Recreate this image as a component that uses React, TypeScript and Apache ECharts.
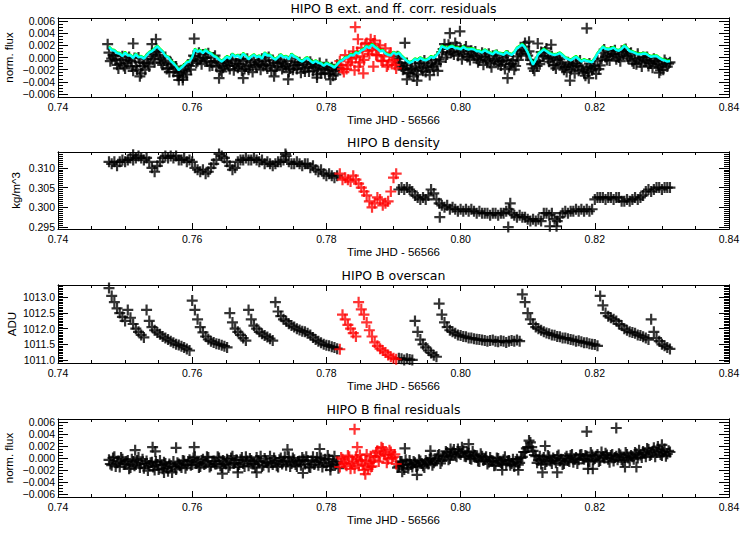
import React, { useEffect, useRef } from "react";
import * as echarts from "echarts";

// time sampling of the light curve (days, JHD - 56566)
const T0 = 0.7476;
const DT = 0.0004;
const T0_B = 0.7478; // second, interleaved set of exposures
const RED_FROM = 0.7819;
const RED_TO = 0.7905;

const X_MIN = 0.74;
const X_MAX = 0.84;
const X_STEP = 0.02;

const panelTitles = [
  "HIPO B ext. and ff. corr. residuals",
  "HIPO B density",
  "HIPO B overscan",
  "HIPO B final residuals",
];
const yTitles = ["norm. flux", "kg/m^3", "ADU", "norm. flux"];
const xTitle = "Time JHD - 56566";

// panel 1: residuals, parts per thousand (times T0 + i*DT)
const residualPpt = [
  0.8, -0.2, 0.3, -1.2, -1.0, 0.2, -1.8, -0.4, -0.6, -2.2,
  -1.4, 0.0, -2.6, -0.9, -0.3, -1.5, 0.6, -0.8, 0.9, -0.2,
  -1.2, 0.1, -1.7, -0.8, -2.4, -1.5, -3.0, -2.1, -1.8, -2.8,
  -1.4, -0.5, 0.2, -0.6, -0.3, 0.5, -0.1, 0.7, -0.8, 0.0,
  -1.5, -0.9, -2.3, -1.2, -0.9, -1.9, -0.5, -1.4, -1.7, -0.3,
  -0.6, -1.5, -2.0, -0.8, -0.4, -1.6, -1.1, -0.2, -0.6, -1.8,
  -1.3, -0.4, -2.1, -0.9, -0.7, -1.6, -1.4, -2.4, -0.2, -1.3,
  -1.9, -0.8, -1.2, -2.3, -1.6, -0.7, -2.2, -1.3, -1.5, -2.6,
  -2.0, -1.1, -2.7, -1.6, -2.2, -1.2, -0.6, -1.9, 0.4, -1.2,
  -0.8, 1.0, 0.0, -1.5, 1.6, -0.4, 2.4, 0.6, 1.2, 2.8,
  0.4, 2.0, -0.6, 1.5, -1.2, 0.8, -0.4, -1.8, -0.2, -1.5,
  -1.9, -0.9, -2.6, -1.8, -1.5, -2.8, -1.0, -2.2, -2.4, -1.3,
  -0.9, -2.0, -1.1, -0.3, 0.9, 2.2, 0.5, 1.6, 1.0, 2.4,
  0.3, 1.5, 0.6, 1.8, 0.2, 1.1, 0.4, -0.2, -0.4, 0.8,
  0.1, -0.6, -0.9, 0.3, -0.2, -1.1, -1.3, 0.0, -0.4, -1.6,
  -1.0, -2.0, 0.2, 1.0, 1.2, 2.4, 0.3, -0.4, -1.8, -0.8,
  -0.6, 0.9, 0.3, 1.5, -0.7, 0.2, -1.2, -0.4, -0.3, -1.5,
  -1.6, -0.8, -2.0, -1.1, -0.9, -2.2, -1.5, -2.5, -1.8, -1.0,
  -2.1, -1.4, -0.5, -1.3, 0.8, 0.1, 0.3, 1.0, 0.6, -0.3,
  0.0, 1.1, 0.9, 0.2, 0.3, -0.6, -0.3, 0.6, -0.8, 0.1,
  -0.5, -1.4, -1.0, -0.2, -0.6, -1.6, -1.3, -0.4, -1.5, -0.8,
];
// panel 1: residuals, interleaved exposures (times T0_B + i*DT)
const residualPptB = [
  -0.6, 0.4, -0.4, -1.8, -0.3, -1.4, -0.9, 0.1, -1.5, -0.1,
  -2.0, -0.8, -1.4, -2.0, -1.0, 0.2, -0.3, 1.0, 0.4, -0.9,
  -0.5, -1.9, -2.4, -1.1, -1.8, -3.0, -2.5, -3.3, -2.3, -1.2,
  -2.0, 0.3, -0.9, 0.8, -1.1, 0.0, -0.6, -1.4, -1.3, 0.3,
  -0.6, -2.1, -1.7, -0.7, -1.4, -0.3, -2.1, -1.0, -1.1, -2.2,
  -1.9, -0.2, -1.3, -2.4, -1.2, -0.7, -2.0, -1.4, -1.2, 0.1,
  -2.2, -0.9, -1.5, -0.3, -1.9, -1.1, -0.6, -1.8, -2.0, -0.8,
  -1.2, -2.5, -1.8, -0.8, -2.3, -1.1, -1.7, -2.8, -0.9, -1.9,
  -2.6, -1.6, -2.0, -3.0, -2.8, -1.8, -1.3, -2.4, -1.9, 0.1,
  -0.2, -2.1, 0.9, -0.8, 0.2, 2.2, 1.1, 3.0, 2.3, 0.4,
  1.4, -0.5, 0.2, -1.5, 0.4, -0.7, -1.2, 0.2, -0.9, -2.0,
  -1.3, -2.5, -1.9, -3.1, -2.1, -0.9, -1.8, -0.5, -1.6, -2.9,
  -1.5, -0.4, -2.2, -0.7, 1.4, 0.0, 2.1, 0.8, 0.5, 1.8,
  0.9, -0.3, 1.3, 0.1, -0.4, 0.7, 1.0, -0.8, 0.2, -1.2,
  -0.3, 0.6, -1.6, -0.5, 0.4, -0.7, -0.6, -1.9, 0.3, -1.1,
  -0.5, -1.4, -0.4, 0.6, 1.8, 0.7, 1.0, -1.1, -2.2, -1.4,
  -1.1, 0.2, 1.0, -0.2, -0.1, -1.3, -1.8, 0.0, -1.0, -2.0,
  -2.4, -1.2, -1.5, -2.6, -1.4, -0.5, -2.0, -3.0, -2.4, -1.5,
  -1.8, -2.7, -1.9, -0.2, 1.3, -0.4, -0.5, 0.6, 1.2, 0.2,
  -0.6, 0.5, 1.4, -0.2, 0.8, -1.0, -1.1, -0.1, -1.5, -0.4,
  0.1, -0.9, -1.7, -0.6, -1.1, -2.1, -2.0, -0.9, -1.0,
];

// panel 1: fitted correction curve (cyan), parts per thousand (times T0 + i*DT)
const fitPpt = [
  1.7, 1.2, 1.1, 0.7, 0.6, 0.2, 0.8, 0.3, 0.3, -0.1,
  0.5, 0.0, 0.1, -0.2, 0.3, 0.8, 1.0, 1.4, 1.8, 1.3,
  0.9, 0.2, 0.0, -0.6, -1.0, -1.5, -2.1, -1.7, -1.3, -0.8,
  -0.7, 0.0, 1.3, 0.9, 1.1, 0.7, 1.2, 0.8, 0.6, 0.2,
  0.0, -0.4, -0.7, -0.3, 0.1, -0.2, 0.5, 0.1, 0.3, -0.1,
  0.6, 0.2, -0.3, 0.1, 0.4, 0.0, 0.2, -0.2, 0.7, 0.3,
  0.3, -0.1, -0.4, 0.0, 0.4, 0.0, 0.1, -0.3, 0.5, 0.1,
  -0.1, -0.5, -0.7, -0.3, -0.1, -0.6, -0.9, -0.6, -0.9, -1.0,
  -1.4, -1.0, -1.2, -1.4, -1.7, -1.2, -0.7, -0.5, -0.1, 0.0,
  0.4, 0.3, 0.8, 0.6, 1.1, 1.3, 1.8, 1.5, 2.1, 1.7,
  1.4, 1.0, 1.1, 0.6, 0.4, 0.3, 0.8, 0.5, 0.7, 0.2,
  -0.2, -0.6, -0.9, -0.7, -0.3, -0.5, -0.1, -0.4, -0.5, -0.3,
  0.1, -0.1, 0.3, 0.9, 1.8, 1.6, 1.4, 1.7, 1.8, 1.5,
  1.5, 1.3, 1.7, 1.4, 1.3, 1.4, 1.3, 1.0, 1.0, 0.8,
  1.2, 0.9, 0.7, 0.5, 1.0, 0.7, 0.6, 0.4, 0.9, 0.6,
  0.4, 0.8, 1.5, 1.8, 2.1, 1.6, 0.8, -0.2, -1.2, -0.4,
  0.6, 0.9, 1.3, 1.0, 0.7, 0.5, 0.4, 0.5, 0.7, 0.3,
  -0.1, -0.3, -0.5, -0.2, 0.1, -0.3, -0.7, -0.4, -0.6, -0.7,
  -0.8, -0.2, 0.6, 1.1, 1.7, 1.4, 1.3, 1.4, 1.6, 1.2,
  1.1, 1.4, 1.9, 1.5, 1.0, 0.9, 0.7, 0.5, 0.5, 0.6,
  0.6, 0.3, 0.1, 0.2, 0.2, -0.1, -0.4, -0.5, -0.7, -0.6,
];

// panel 2: density, kg/m^3
const densityKgM3 = [
  0.3115, 0.3110, 0.3115, 0.3105,
  0.3115, 0.3120, 0.3115, 0.3120, 0.3125, 0.3120,
  0.3125, 0.3130, 0.3125, 0.3120, 0.3125, 0.3115,
  0.3100, 0.3090, 0.3105, 0.3115,
  0.3125, 0.3130, 0.3125, 0.3130, 0.3125, 0.3130, 0.3120,
  0.3120, 0.3125, 0.3115, 0.3120, 0.3115,
  0.3100, 0.3095, 0.3090, 0.3095, 0.3085, 0.3090,
  0.3100, 0.3110, 0.3120,
  0.3135, 0.3130, 0.3125,
  0.3115, 0.3105, 0.3095, 0.3100,
  0.3115, 0.3120, 0.3120, 0.3125, 0.3120, 0.3120, 0.3125, 0.3120, 0.3115, 0.3120,
  0.3110, 0.3115, 0.3110, 0.3105, 0.3110, 0.3115,
  0.3115, 0.3120, 0.3130, 0.3115, 0.3110,
  0.3110, 0.3115, 0.3110, 0.3105, 0.3110, 0.3110,
  0.3100, 0.3105, 0.3095, 0.3090, 0.3095,
  0.3085, 0.3080, 0.3085, 0.3080, 0.3075, 0.3080,
  0.3085, 0.3070, 0.3075, 0.3070, 0.3065, 0.3080, 0.3070, 0.3060, 0.3050, 0.3040,
  0.3030, 0.3015, 0.3000, 0.3010, 0.3025, 0.3020, 0.3005, 0.3010, 0.3015, 0.3040,
  0.3075, 0.3085,
  0.3045, 0.3050, 0.3045, 0.3050, 0.3045, 0.3040, 0.3030, 0.3025, 0.3020, 0.3025,
  0.3020, 0.3030, 0.3045, 0.3035, 0.3020, 0.3010, 0.3005, 0.3000, 0.3005, 0.2995,
  0.3000, 0.2995, 0.2990, 0.2995, 0.2990, 0.2995, 0.2990, 0.2995, 0.2990, 0.2985,
  0.2990, 0.2985, 0.2985, 0.2985, 0.2980, 0.2985, 0.2985, 0.2980, 0.2985, 0.2985,
  0.2990, 0.2995, 0.2985, 0.2980, 0.2975, 0.2980, 0.2975, 0.2975, 0.2970, 0.2965,
  0.2970, 0.2965, 0.2970, 0.2965, 0.2985, 0.2985, 0.2980, 0.2985, 0.2970, 0.2965,
  0.2975, 0.2985, 0.2990, 0.2985, 0.2990, 0.2990, 0.2995, 0.2990, 0.2995, 0.2990,
  0.2995, 0.2990, 0.2995, 0.3020, 0.3025, 0.3025, 0.3025, 0.3020, 0.3025, 0.3025,
  0.3020, 0.3025, 0.3025, 0.3015, 0.3015, 0.3020, 0.3015, 0.3020, 0.3025, 0.3020,
  0.3025, 0.3030, 0.3040, 0.3045, 0.3040, 0.3045, 0.3050, 0.3050, 0.3045, 0.3050,
  0.3050, 0.3050,
];

// panel 3: overscan level, ADU
const overscanAdu = [
  1013.30, 1013.05, 1012.85, 1012.65, 1012.50, 1012.38, 1012.25,
  1012.60, 1012.35, 1012.15, 1012.00, 1011.90, 1011.80, 1011.72,
  1012.60, 1012.25, 1012.05, 1011.95, 1011.88, 1011.82, 1011.75, 1011.70, 1011.65,
  1011.60, 1011.55, 1011.50, 1011.48, 1011.44, 1011.40, 1011.35, 1011.30,
  1012.90, 1012.60, 1012.30, 1012.05, 1011.88, 1011.75, 1011.66, 1011.60, 1011.56,
  1011.52, 1011.50, 1011.47, 1011.44, 1011.40,
  1012.50, 1012.20, 1012.00, 1011.90, 1011.80, 1011.70, 1011.62,
  1012.60, 1012.30, 1012.10, 1012.00, 1011.90, 1011.84, 1011.78, 1011.73, 1011.68, 1011.62,
  1012.85, 1012.55, 1012.40, 1012.30, 1012.24, 1012.16, 1012.10, 1012.05, 1012.00, 1011.96,
  1011.92, 1011.90, 1011.85, 1011.80, 1011.72, 1011.65, 1011.60, 1011.55, 1011.50, 1011.47,
  1011.45, 1011.42, 1011.40, 1011.36,
  1011.34, 1012.45, 1012.30, 1012.12, 1012.00, 1011.86, 1011.75,
  1012.85, 1012.62, 1012.45, 1012.20, 1011.95, 1011.75, 1011.56, 1011.45, 1011.36, 1011.30,
  1011.24, 1011.16, 1011.10, 1011.05, 1011.02,
  1011.05, 1011.04, 1011.00, 1011.04, 1011.01, 1011.00,
  1012.25, 1011.90, 1011.65, 1011.50, 1011.40, 1011.30, 1011.22, 1011.15, 1011.10,
  1012.80, 1012.45, 1012.20, 1012.05, 1011.95, 1011.90, 1011.85, 1011.80, 1011.78, 1011.75,
  1011.74, 1011.70, 1011.70, 1011.68, 1011.66, 1011.65, 1011.64, 1011.62, 1011.60, 1011.62,
  1011.64, 1011.60, 1011.58, 1011.61, 1011.60, 1011.56, 1011.60, 1011.62, 1011.60, 1011.64,
  1011.60,
  1013.10, 1012.85, 1012.50, 1012.30, 1012.15, 1012.05, 1012.00, 1011.95, 1011.90, 1011.86,
  1011.84, 1011.80, 1011.79, 1011.75, 1011.74, 1011.70, 1011.70, 1011.68, 1011.65, 1011.64,
  1011.60, 1011.61, 1011.58, 1011.55, 1011.55, 1011.52, 1011.50, 1011.49, 1011.45,
  1013.05, 1012.75, 1012.50, 1012.40, 1012.35, 1012.30, 1012.25, 1012.15, 1012.10, 1012.00,
  1011.95, 1011.90, 1011.88, 1011.85, 1011.80, 1011.78, 1011.74, 1011.70, 1011.65,
  1012.30, 1011.90, 1011.70, 1011.60, 1011.50, 1011.45, 1011.40, 1011.35,
];

// panel 4: final residuals, parts per thousand (times T0 + i*DT)
const finalPpt = [
  -0.3, -1.2, 0.2, -0.8, -1.5, -0.2, -1.0, -0.4, -1.6, -0.6,
  -1.1, 0.1, -0.9, -1.7, -0.5, -1.3, -0.7, -2.0, -1.1, -0.4,
  -1.8, -0.9, -2.2, -1.3, -0.6, -1.9, -1.0, -1.6, -0.5, -1.2,
  -0.3, -1.1, 0.2, -0.7, -1.4, -0.2, -0.9, 0.1, -1.3, -0.5,
  -1.0, 0.0, -1.6, -0.6, -0.2, -1.2, 0.3, -0.8, -1.5, -0.3,
  -0.9, 0.2, -1.3, -0.4, -1.0, 0.1, -0.7, -1.4, -0.1, -0.8,
  0.3, -1.1, -0.5, -1.5, 0.0, -0.6, -1.2, 0.2, -0.9, -0.3,
  -1.4, -0.5, 0.1, -1.0, -0.4, -1.6, 0.2, -0.7, -1.2, 0.0,
  -0.8, -1.3, -0.2, -1.1, 0.3, -0.6,
  -1.5, -0.2, -1.0, 0.4, -1.8, -0.6, 0.2, -1.3, -0.4, -2.0,
  0.6, -0.8, -1.4, 0.1, 1.2, 0.3, 1.6, 0.5, -0.2, 1.0,
  0.2, -1.0,
  -1.4, -0.6, -1.9, -1.0, -0.4, -1.5, -0.8, -1.2, -0.5, -1.3,
  -0.4, -1.0, 0.0, -0.8, -0.2, 0.6, -0.5, 0.3, 0.9, -0.1,
  1.0, 0.4, 1.5, 0.6, 1.2, 0.2, 0.8, -0.2, 0.5, 0.1,
  -0.6, 0.3, -0.2, -1.0, 0.1, -0.5, -1.2, -0.1, -0.8, -0.3,
  -1.1, -0.4, -0.9, -1.4, -0.2, -0.8, 0.2, 1.0, 1.8, 2.6,
  1.2, 0.3, -0.4, -1.0, 0.1, -0.6, 0.2, -0.9, -0.3, 0.3,
  -0.5, -1.1, 0.0, -0.4, 0.4, -0.7, 0.1, -0.3, 0.6, -0.2,
  0.3, -0.6, 0.5, -0.1, 0.6, -0.4, 0.2, 0.8, -0.2, 0.4,
  -0.5, 0.3, 0.7, -0.3, 0.1, 0.6, -0.4, 0.2, 0.9, 0.0,
  0.5, 1.1, 0.2, 1.4, 0.6, 1.7, 0.9, 1.3, 0.4, 1.5, 0.7, 1.0,
];
// panel 4: final residuals, interleaved exposures (times T0_B + i*DT)
const finalPptB = [
  -1.0, 0.0, -1.4, -0.5, 0.1, -1.1, -0.6, -1.8, -0.2, -1.3,
  -0.4, -1.6, -0.2, -1.0, -2.1, -0.8, -1.5, -0.6, -1.9, -1.2,
  -0.7, -1.6, -1.0, -2.4, -1.5, -0.8, -1.3, -0.4, -1.7, -0.6,
  -1.2, 0.0, -0.9, -1.6, -0.4, -1.1, 0.2, -1.5, -0.6, -1.0,
  0.2, -1.3, -0.4, -1.0, -1.6, 0.0, -0.9, -0.3, -1.1, 0.1,
  -1.4, -0.5, -0.1, -1.0, -1.6, -0.5, 0.3, -1.2, -0.6, -1.5,
  -0.8, 0.0, -1.3, -0.3, -1.0, 0.2, -0.6, -1.4, 0.0, -1.1,
  -0.6, -1.2, -0.3, 0.2, -1.5, -0.5, -1.1, 0.1, -0.3, -1.5,
  -0.2, 0.4, -1.4, -0.6, -1.0, -1.7, 0.1, -0.8, -1.3, 0.2,
  -0.9, -1.7, -0.2, 0.5, -1.1, -0.5, -1.8, 0.3, -0.4, 0.9,
  -0.6, 1.8, 0.7, -0.8, 1.3, 0.0, 0.6, -1.6, -0.6, -1.2,
  -0.3, -1.7, -1.1, -0.6, -1.4, -0.3, -0.9, -1.6, -0.7, -0.2,
  -1.2, -0.5, 0.4, -0.9, 0.2, 1.1, -0.3, 0.6, 1.4, 0.2,
  0.8, 1.8, 0.3, 1.0, -0.1, 1.1, 0.4, -0.5, 0.7, -0.4,
  0.2, -0.7, -0.4, -1.3, 0.0, -0.6, -1.0, 0.2, -0.5, -1.2,
  -0.2, -0.6, -1.1, 0.0, 1.0, 1.6, 2.9, 1.8, 0.5, -0.8,
  0.3, -0.2, -1.1, 0.4, -0.5, 0.0, -0.8, 0.5, -0.2, -0.9,
  0.3, -0.6, 0.6, -0.2, -0.9, 0.5, -0.1, 0.4, -0.5, 0.9,
  -0.3, 0.3, -0.6, 1.0, 0.0, 0.5, -0.7, 0.6, 0.1, -0.3,
  0.5, -0.6, 0.9, 0.0, 0.4, -0.2, 0.7, 1.3, 0.1, 0.8,
  1.6, 0.4, 1.1, 0.2, 1.9, 0.6, 1.0, 0.3, 1.2,
];

// isolated points [time, value]
const residualOutliers = [
  [0.7474, 2.2], [0.7512, 2.3], [0.754, 2.2], [0.7546, 3.0], [0.7522, -3.1],
  [0.758, -3.7], [0.7586, -3.7], [0.7603, 3.1], [0.764, -3.4], [0.7676, -3.4],
  [0.7722, -3.1], [0.7743, -3.6], [0.7786, -3.3], [0.7806, -3.6], [0.7843, 5.0],
  [0.7847, 3.0], [0.7855, -2.6], [0.787, -1.5], [0.7917, 2.4], [0.792, -3.6],
  [0.7935, -3.8], [0.7984, 4.0], [0.7999, 4.3], [0.807, -3.4], [0.8102, 2.6],
  [0.8115, 2.3], [0.8135, 2.1], [0.8163, -3.8], [0.8188, 4.8], [0.8191, -3.4],
  [0.8296, -2.5],
];
const densityOutliers = [
  [0.7512, 0.3133], [0.7739, 0.3135], [0.7969, 0.2975], [0.8071, 0.295],
  [0.8074, 0.301], [0.8133, 0.2952], [0.8143, 0.2952],
];
const finalOutliers = [
  [0.7515, 1.3], [0.7541, 1.8], [0.7545, 1.1], [0.7576, 1.7], [0.7603, 1.8],
  [0.7558, -2.4], [0.7645, -2.6], [0.7668, -2.4], [0.7696, -2.4], [0.7742, 1.4],
  [0.7765, -2.5], [0.779, 1.5], [0.7806, -2.0], [0.7842, 4.8], [0.7846, 1.8],
  [0.7858, -2.7], [0.7866, -1.5], [0.7917, 1.6], [0.7913, -2.3], [0.7935, -2.8],
  [0.7955, 1.2], [0.7985, 1.5], [0.8012, 2.3], [0.8062, -2.0], [0.8086, -2.0],
  [0.8122, -2.4], [0.8126, 2.0], [0.8144, -2.4], [0.8188, 4.4], [0.819, -1.8],
  [0.8197, -1.8], [0.8232, 5.0], [0.8245, -1.5], [0.8262, -1.5], [0.83, 2.2],
];

const PLUS = "path://M4,0h2v4h4v2h-4v4h-2v-4h-4v-2h4z";
const FONT = "Liberation Sans";

const isRed = (t: number) => t >= RED_FROM && t <= RED_TO;
const toPairs = (vals: number[], t0: number) =>
  vals.map((v, i) => [+(t0 + i * DT).toFixed(5), v]);

function splitPairs(pairs: number[][]) {
  return {
    black: pairs.filter((p) => !isRed(p[0])),
    red: pairs.filter((p) => isRed(p[0])),
  };
}

const minusFix = (s: string) => s.replace("-", "\u2212");
const isMultiple = (v: number, m: number) => Math.abs(v / m - Math.round(v / m)) < 1e-6;

const panels = [
  { top: 18, height: 79, min: -6.5, max: 6.5, split: 6, major: 2, minor: 0.5, nameX: 8.5,
    fmt: (v: number) => minusFix((v / 1000).toFixed(3)) },
  { top: 152, height: 77, min: 0.2945, max: 0.314, split: 4, major: 0.005, minor: 0.0005, nameX: 16,
    fmt: (v: number) => v.toFixed(3) },
  { top: 285, height: 78, min: 1010.9, max: 1013.4, split: 5, major: 0.5, minor: 0.05, nameX: 11.5,
    fmt: (v: number) => v.toFixed(1) },
  { top: 419, height: 78, min: -6.5, max: 6.5, split: 6, major: 2, minor: 0.5, nameX: 8.5,
    fmt: (v: number) => minusFix((v / 1000).toFixed(3)) },
];

function buildOption() {
  const grids: any[] = [];
  const xAxes: any[] = [];
  const yAxes: any[] = [];
  const graphic: any[] = [];
  const black = { color: "#000" };

  panels.forEach((p, g) => {
    grids.push({ left: 58, width: 671, top: p.top, height: p.height });
    const xc = {
      type: "value", gridIndex: g, min: X_MIN, max: X_MAX, interval: X_STEP,
      splitLine: { show: false },
      axisLine: { show: true, onZero: false, lineStyle: { color: "#000", width: 1 } },
      axisTick: { show: true, inside: true, length: 6, lineStyle: black },
      minorTick: { show: true, splitNumber: 4, length: 3, lineStyle: black },
    };
    xAxes.push({
      ...xc, position: "bottom",
      axisLabel: { show: true, margin: 4, color: "#000", fontSize: 10.5, fontFamily: FONT,
        formatter: (v: number) => v.toFixed(2) },
    });
    xAxes.push({ ...xc, position: "top", axisLabel: { show: false } });

    const yc = {
      type: "value", gridIndex: g, min: p.min, max: p.max,
      splitLine: { show: false },
      axisLine: { show: true, onZero: false, lineStyle: { color: "#000", width: 1 } },
    };
    const majorTick = { show: true, inside: true, length: 10, lineStyle: black };
    const minorTickY = { show: true, inside: true, length: 5, lineStyle: black };
    yAxes.push({
      ...yc, position: "left", splitNumber: p.split, axisTick: majorTick,
      axisLabel: { show: true, margin: 3, color: "#000", fontSize: 10.5, fontFamily: FONT,
        formatter: (v: number) => (isMultiple(v, p.major) ? p.fmt(v) : "") },
    });
    yAxes.push({ ...yc, position: "left", interval: p.minor, axisTick: minorTickY, axisLabel: { show: false } });
    yAxes.push({ ...yc, position: "right", splitNumber: p.split, axisTick: majorTick, axisLabel: { show: false } });
    yAxes.push({ ...yc, position: "right", interval: p.minor, axisTick: minorTickY, axisLabel: { show: false } });

    graphic.push({
      type: "text", x: 393.5, y: p.top - 9.5, silent: true,
      style: { text: panelTitles[g], font: '12.5px "DejaVu Sans"', fill: "#000", align: "center", verticalAlign: "middle" },
    });
    graphic.push({
      type: "text", x: 393.5, y: p.top + p.height + 22.5, silent: true,
      style: { text: xTitle, font: `11.5px "${FONT}"`, fill: "#000", align: "center", verticalAlign: "middle" },
    });
    graphic.push({
      type: "text", x: p.nameX, y: p.top + p.height / 2, rotation: Math.PI / 2, silent: true,
      style: { text: yTitles[g], font: `11.5px "${FONT}"`, fill: "#000", align: "center", verticalAlign: "middle" },
    });
  });

  const scatter = (g: number, data: number[][], color: string, z: number) => ({
    type: "scatter", xAxisIndex: 2 * g, yAxisIndex: 4 * g, data,
    symbol: PLUS, symbolSize: 11, itemStyle: { color }, z, silent: true,
  });

  const sets = [
    splitPairs([...toPairs(residualPpt, T0), ...toPairs(residualPptB, T0_B), ...residualOutliers]),
    splitPairs([...toPairs(densityKgM3, T0), ...densityOutliers]),
    splitPairs(toPairs(overscanAdu, T0)),
    splitPairs([...toPairs(finalPpt, T0), ...toPairs(finalPptB, T0_B), ...finalOutliers]),
  ];
  const series: any[] = [];
  sets.forEach((s, g) => {
    series.push(scatter(g, s.black, "#000000", 2));
    series.push(scatter(g, s.red, "#ff0000", 3));
  });
  series.push({
    type: "line", xAxisIndex: 0, yAxisIndex: 0, data: toPairs(fitPpt, T0), symbol: "none", silent: true, z: 5,
    lineStyle: { color: "#00ffff", width: 2.2, shadowColor: "#00ff00", shadowOffsetY: -1, shadowBlur: 0 },
  });

  return {
    animation: false,
    backgroundColor: "#ffffff",
    grid: grids,
    xAxis: xAxes,
    yAxis: yAxes,
    series,
    graphic,
  };
}

export default function App() {
  const ref = useRef<HTMLDivElement>(null);
  useEffect(() => {
    if (!ref.current) return;
    const chart = echarts.init(ref.current, undefined, { renderer: "svg" });
    chart.setOption(buildOption() as any);
    return () => chart.dispose();
  }, []);
  return (
    <div
      ref={ref}
      style={{ position: "fixed", left: 0, top: 0, width: 747, height: 534, background: "#fff" }}
    />
  );
}
